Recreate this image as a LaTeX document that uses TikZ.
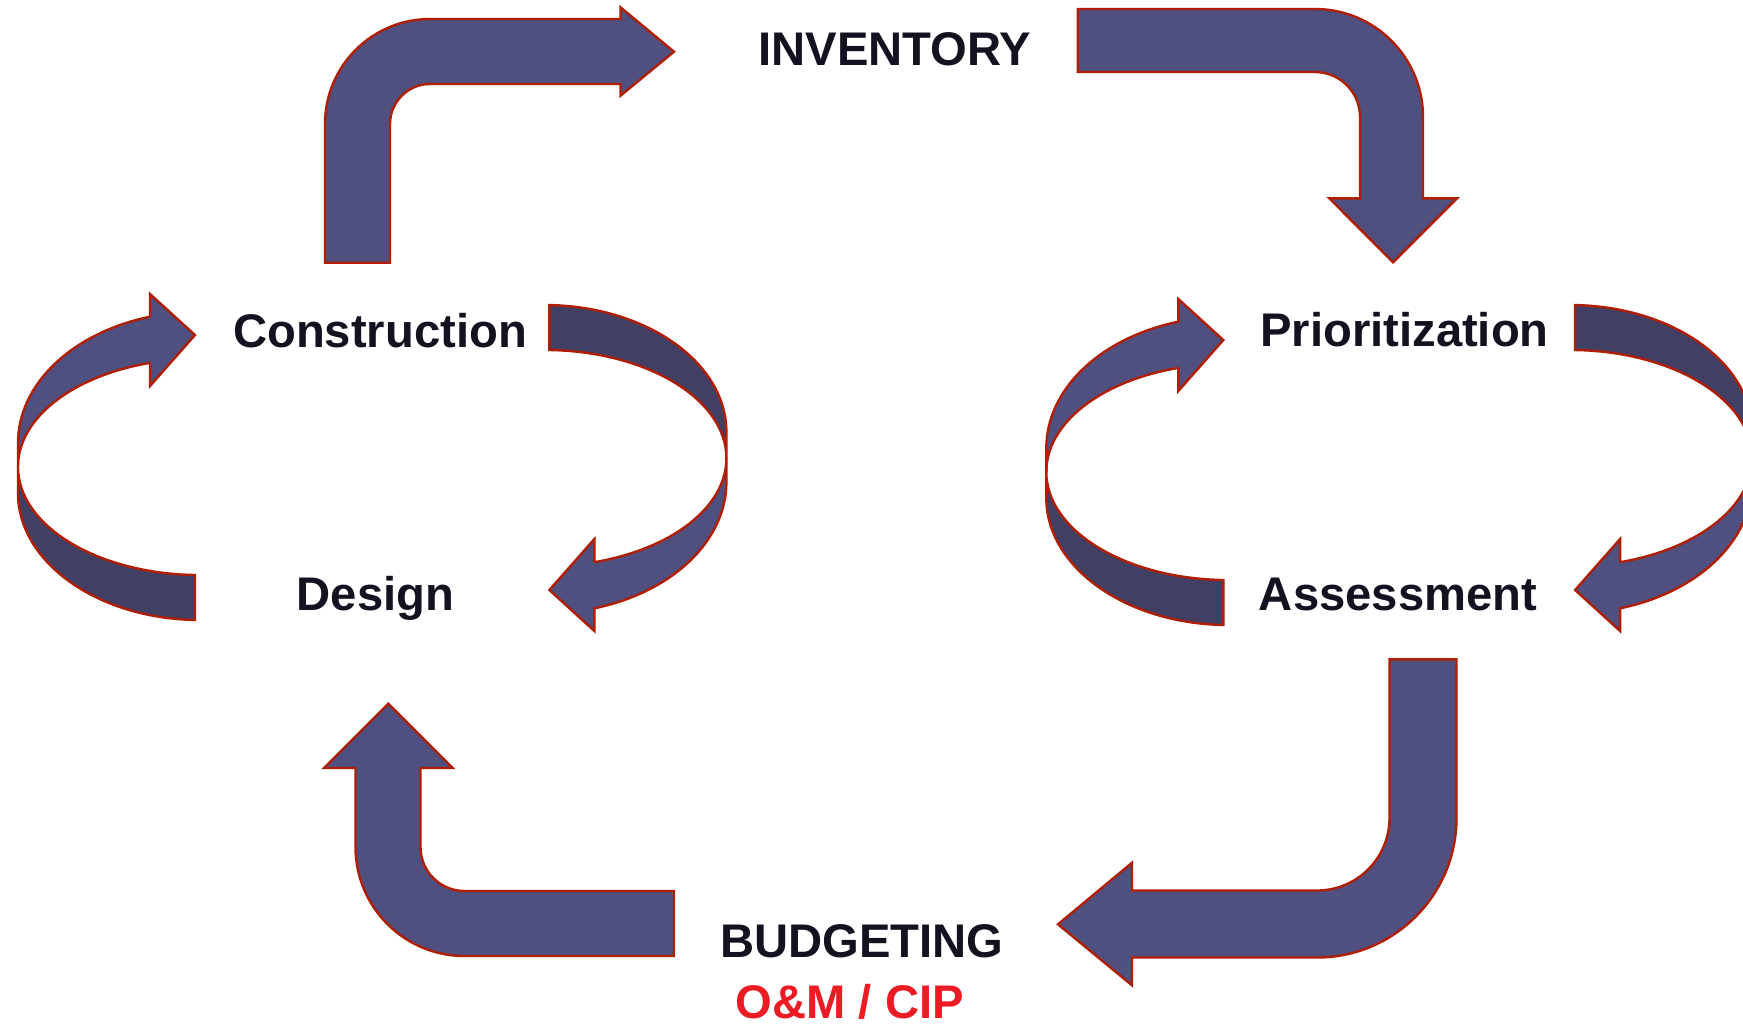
\documentclass[tikz,border=0pt]{standalone}
\usepackage{fontspec}
\setmainfont{Liberation Sans}
\definecolor{lightband}{RGB}{79,80,128}
\definecolor{darkband}{RGB}{65,63,100}
\definecolor{edgered}{RGB}{175,30,5}
\definecolor{labelblack}{RGB}{20,18,32}
\definecolor{omred}{RGB}{237,28,36}
\newcommand{\myring}{%
  \draw[backband] (18,466.7) -- (18,493)
    arc[start angle=180,end angle=91.57,x radius=182,y radius=127]
    -- (195,575)
    arc[start angle=91.57,end angle=180,x radius=182,y radius=108.3] -- cycle;
  \draw[band] (150,362.7) -- (150,386) -- (195,335) -- (150,294) -- (150,316.7)
    arc[start angle=254.05,end angle=180,x radius=182,y radius=131.4]
    -- (18,466.7)
    arc[start angle=180,end angle=254.05,x radius=182,y radius=108] -- cycle;
}
\begin{document}
\begin{tikzpicture}[x=0.5pt,y=-0.5pt,
  band/.style={draw=edgered,line width=1.2pt,line join=miter,fill=lightband},
  backband/.style={band,fill=darkband},
  lbl/.style={anchor=base,inner sep=0pt,text=labelblack,font=\fontsize{23.6}{28}\selectfont\bfseries}]
\useasboundingbox (0,0) rectangle (1743,1025);
\clip (0,0) rectangle (1743,1025);
\fill[white] (0,0) rectangle (1743,1025);

% rings
\begin{scope}\myring\end{scope}
\begin{scope}[rotate around={180:(372.2,462.5)}]\myring\end{scope}
\begin{scope}[shift={(1028.3,5)}]\myring\end{scope}
\begin{scope}[shift={(1025.7,0)},rotate around={180:(372.2,462.5)}]\myring\end{scope}

% bent arrows
\draw[band] (325,262.7) -- (325,124) arc[start angle=180,end angle=270,radius=105]
  -- (620.5,19) -- (620.5,7.3) -- (674,51.7) -- (620.5,95.7) -- (620.5,84) -- (430,84)
  arc[start angle=270,end angle=180,radius=40] -- (390,262.7) -- cycle;

\draw[band] (1077.7,9) -- (1315,9) arc[start angle=270,end angle=360,radius=108]
  -- (1423,198.3) -- (1457,198.3) -- (1393,262.3) -- (1329.3,198.3) -- (1360,198.3)
  -- (1360,117) arc[start angle=360,end angle=270,radius=45] -- (1077.7,72) -- cycle;

\draw[band] (1389.5,659.3) -- (1456.5,659.3) -- (1456.5,818)
  arc[start angle=0,end angle=90,radius=139.5] -- (1132,957.5) -- (1132,985.3)
  -- (1058,924.3) -- (1132,862.7) -- (1132,890.5) -- (1317,890.5)
  arc[start angle=90,end angle=0,radius=72.5] -- cycle;

\draw[band] (674,891) -- (464.5,891) arc[start angle=90,end angle=180,radius=44]
  -- (420.5,768) -- (452.8,768) -- (388.3,703.7) -- (324,768) -- (355.5,768)
  -- (355.5,847) arc[start angle=180,end angle=90,radius=109] -- (674,956) -- cycle;

% labels
\node[lbl] (inv) at (895,65.7) {INVENTORY};
\node[lbl] (con) at (380,347) {Construction};
\node[lbl] (pri) at (1404.5,346.7) {Prioritization};
\node[lbl] (des) at (375.5,610.3) {Design};
\node[lbl] (ass) at (1398,610) {Assessment};
\node[lbl] (bud) at (861.7,957) {BUDGETING};
\node[lbl,text=omred] (om) at (849.7,1018.5) {O\&M / CIP};
\end{tikzpicture}
\end{document}
